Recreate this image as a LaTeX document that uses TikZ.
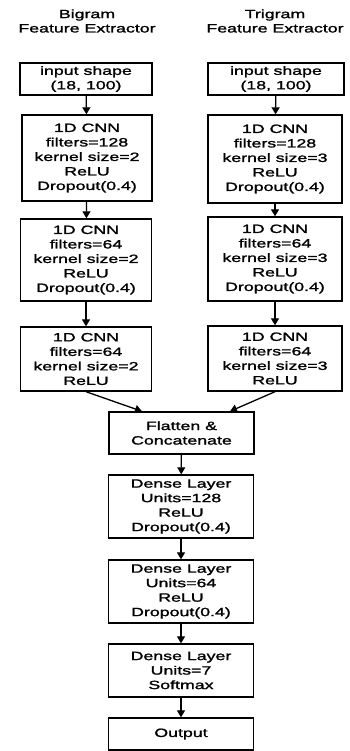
\documentclass[tikz,border=0pt]{standalone}
\usepackage{fontspec}
\setmainfont{Liberation Sans}[FakeStretch=1.48,FakeBold=1.5]
\usetikzlibrary{arrows.meta,calc}
\begin{document}
\begin{tikzpicture}[x=1pt,y=-1pt,
  box/.style={draw=black,line width=1.4pt,inner sep=0pt,align=center,
    font=\fontsize{12}{14.5}\selectfont},
  ttl/.style={align=center,inner sep=0pt,font=\fontsize{12}{14.3}\selectfont},
  arr/.style={line width=1.3pt,-{Triangle[width=8pt,length=7pt]}}]
\useasboundingbox (0,0) rectangle (349,751);
\node[ttl] (tb) at (87,21) {Bigram\\Feature Extractor};
\node[ttl] (tt) at (275,21) {Trigram\\Feature Extractor};
% left column
\node[box,minimum width=132pt,minimum height=32pt] (lin) at (86,79) {input shape\\(18, 100)};
\node[box,minimum width=130pt,minimum height=86pt] (l1) at (87,158) {1D CNN\\filters=128\\kernel size=2\\ReLU\\Dropout(0.4)};
\node[box,minimum width=131pt,minimum height=82pt] (l2) at (86,260) {1D CNN\\filters=64\\kernel size=2\\ReLU\\Dropout(0.4)};
\node[box,minimum width=131pt,minimum height=64pt] (l3) at (86,359) {1D CNN\\filters=64\\kernel size=2\\ReLU};
% right column
\node[box,minimum width=136pt,minimum height=32pt] (rin) at (276,79) {input shape\\(18, 100)};
\node[box,minimum width=134pt,minimum height=88pt] (r1) at (275,159) {1D CNN\\filters=128\\kernel size=3\\ReLU\\Dropout(0.4)};
\node[box,minimum width=134pt,minimum height=84pt] (r2) at (275,259) {1D CNN\\filters=64\\kernel size=3\\ReLU\\Dropout(0.4)};
\node[box,minimum width=134pt,minimum height=65pt] (r3) at (275,358.5) {1D CNN\\filters=64\\kernel size=3\\ReLU};
% merged column
\node[box,minimum width=145pt,minimum height=42pt] (flat) at (181.5,433) {Flatten \&\\Concatenate};
\node[box,minimum width=145pt,minimum height=63pt] (d1) at (181,506.5) {Dense Layer\\Units=128\\ReLU\\Dropout(0.4)};
\node[box,minimum width=145pt,minimum height=63pt] (d2) at (181,591.5) {Dense Layer\\Units=64\\ReLU\\Dropout(0.4)};
\node[box,minimum width=145pt,minimum height=53pt] (d3) at (181,670.5) {Dense Layer\\Units=7\\Softmax};
\node[box,minimum width=145pt,minimum height=32pt] (out) at (181,734) {Output};
\coordinate (fl) at ([xshift=-39.5pt]flat.north);
\coordinate (fr) at ([xshift=48.5pt]flat.north);
% arrows
\draw[arr] (lin) -- (l1);
\draw[arr] (l1) -- (l2);
\draw[arr] (l2) -- (l3);
\draw[arr] (rin) -- (r1);
\draw[arr] (r1) -- (r2);
\draw[arr] (r2) -- (r3);
\draw[arr] (l3.south) -- (fl);
\draw[arr] (r3.south) -- (fr);
\draw[arr] (flat) -- (d1);
\draw[arr] (d1) -- (d2);
\draw[arr] (d2) -- (d3);
\draw[arr] (d3) -- (out);
\end{tikzpicture}
\end{document}
